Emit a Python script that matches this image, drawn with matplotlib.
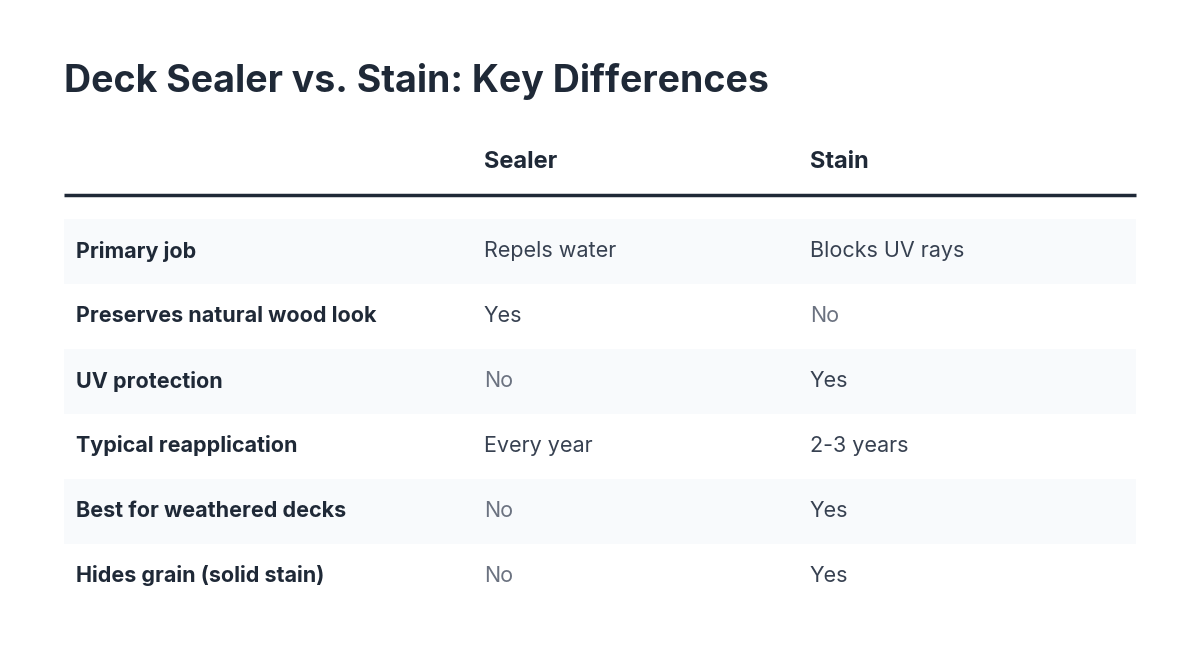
import matplotlib
matplotlib.use("Agg")
import matplotlib.pyplot as plt
from matplotlib.patches import Rectangle

title = "Deck Sealer vs. Stain: Key Differences"
columns = ["Sealer", "Stain"]
features = ["Primary job", "Preserves natural wood look", "UV protection",
            "Typical reapplication", "Best for weathered decks", "Hides grain (solid stain)"]
sealer = ["Repels water", "Yes", "No", "Every year", "No", "No"]
stain = ["Blocks UV rays", "No", "Yes", "2-3 years", "Yes", "Yes"]

plt.rcParams['font.family'] = ['Inter', 'DejaVu Sans']
fig = plt.figure(figsize=(12, 6.64), dpi=100)
ax = fig.add_axes([0, 0, 1, 1])
ax.set_xlim(0, 1200); ax.set_ylim(664, 0); ax.axis('off')

dark = "#1f2937"
ax.text(64, 82, title, fontsize=27, fontweight='bold', color=dark, va='center', ha='left')
ax.text(484, 162, columns[0], fontsize=17, fontweight='bold', color=dark, va='center')
ax.text(810, 162, columns[1], fontsize=17, fontweight='bold', color=dark, va='center')
ax.plot([64, 1136], [195, 195], color=dark, lw=2.5, solid_capstyle='butt')

def col(v):
    return "#6b7280" if v == "No" else "#374151"

for i, (f, s, t) in enumerate(zip(features, sealer, stain)):
    y = 251 + 65 * i
    if i % 2 == 0:
        ax.add_patch(Rectangle((64, y - 32.5), 1072, 65, color="#f8fafc", lw=0))
    ax.text(76, y, f, fontsize=15.5, fontweight='bold', color=dark, va='center')
    ax.text(484, y, s, fontsize=15.5, color=col(s), va='center')
    ax.text(810, y, t, fontsize=15.5, color=col(t), va='center')

fig.savefig("out.png", dpi=100, facecolor='white')
